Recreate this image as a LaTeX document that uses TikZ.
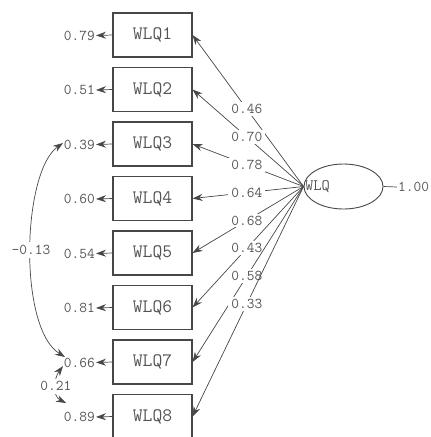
\documentclass[tikz,border=0pt]{standalone}
\usetikzlibrary{shapes.geometric,arrows.meta}
\definecolor{ink}{rgb}{0.28,0.28,0.28}
\definecolor{txt}{rgb}{0.33,0.33,0.33}
\definecolor{paper}{rgb}{1,1,1}
\tikzset{
  obsbox/.style={draw, color=ink, line width=1.1pt, minimum width=79pt, minimum height=44pt,
    inner sep=0pt, font=\ttfamily\fontsize{19}{19}\selectfont, text=txt},
  latent/.style={draw, color=ink, line width=0.9pt, ellipse, minimum width=79pt, minimum height=45pt, inner sep=0pt},
  num/.style={font=\ttfamily\fontsize{15}{15}\selectfont, text=txt, inner sep=1pt},
  tip/.style={-{Stealth[length=10pt,width=7pt,fill=ink]}},
  bitip/.style={{Stealth[length=10pt,width=7pt,fill=ink]}-{Stealth[length=10pt,width=7pt,fill=ink]}},
  conn/.style={draw, color=ink, line width=0.7pt},
  loadlab/.style={num, fill=paper, inner xsep=3pt, inner ysep=2pt, pos=0.51},
}
\begin{document}
\begin{tikzpicture}[x=1pt,y=1pt]
  \useasboundingbox (0,-437) rectangle (431,0);

  % latent factor
  \node[latent] (L) at (343.5,-186.5) {};
  \node[font=\ttfamily\fontsize{16}{16}\selectfont, text=txt, anchor=west, inner sep=0pt] (Lt) at (305,-187) {WLQ};
  \node[num, anchor=west] (v) at (397,-187) {1.00};
  \draw[conn] (L.east) -- (v.west);

  % observed indicators with their error variances and loadings
  \foreach \i/\e/\l in {1/0.79/0.46, 2/0.51/0.70, 3/0.39/0.78, 4/0.60/0.64,
                        5/0.54/0.68, 6/0.81/0.43, 7/0.66/0.58, 8/0.89/0.33} {
    \node[obsbox] (b\i) at (152.5,{-35-54.5*(\i-1)}) {WLQ\i};
    \node[num, anchor=east] (e\i) at (96,{-35.5-54.5*(\i-1)}) {\e};
    \draw[conn, tip] (b\i.west) -- (e\i.east);
    \draw[conn, tip] (L.west) -- node[loadlab] {\l} (b\i.east);
  }

  % error covariances
  \coordinate (c3) at (63,-143);
  \coordinate (c7a) at (65,-357);
  \coordinate (c7b) at (63,-366);
  \coordinate (c8) at (66,-403);
  \draw[conn, bitip]
    (c3) .. controls (22,-172) and (18,-328) .. node[num, fill=paper, inner ysep=3pt, pos=0.5] {-0.13} (c7a);
  \draw[conn, bitip]
    (c7b) .. controls (54,-378) and (52,-396) .. node[num, fill=paper, inner ysep=3pt, pos=0.5] {0.21} (c8);
\end{tikzpicture}
\end{document}
